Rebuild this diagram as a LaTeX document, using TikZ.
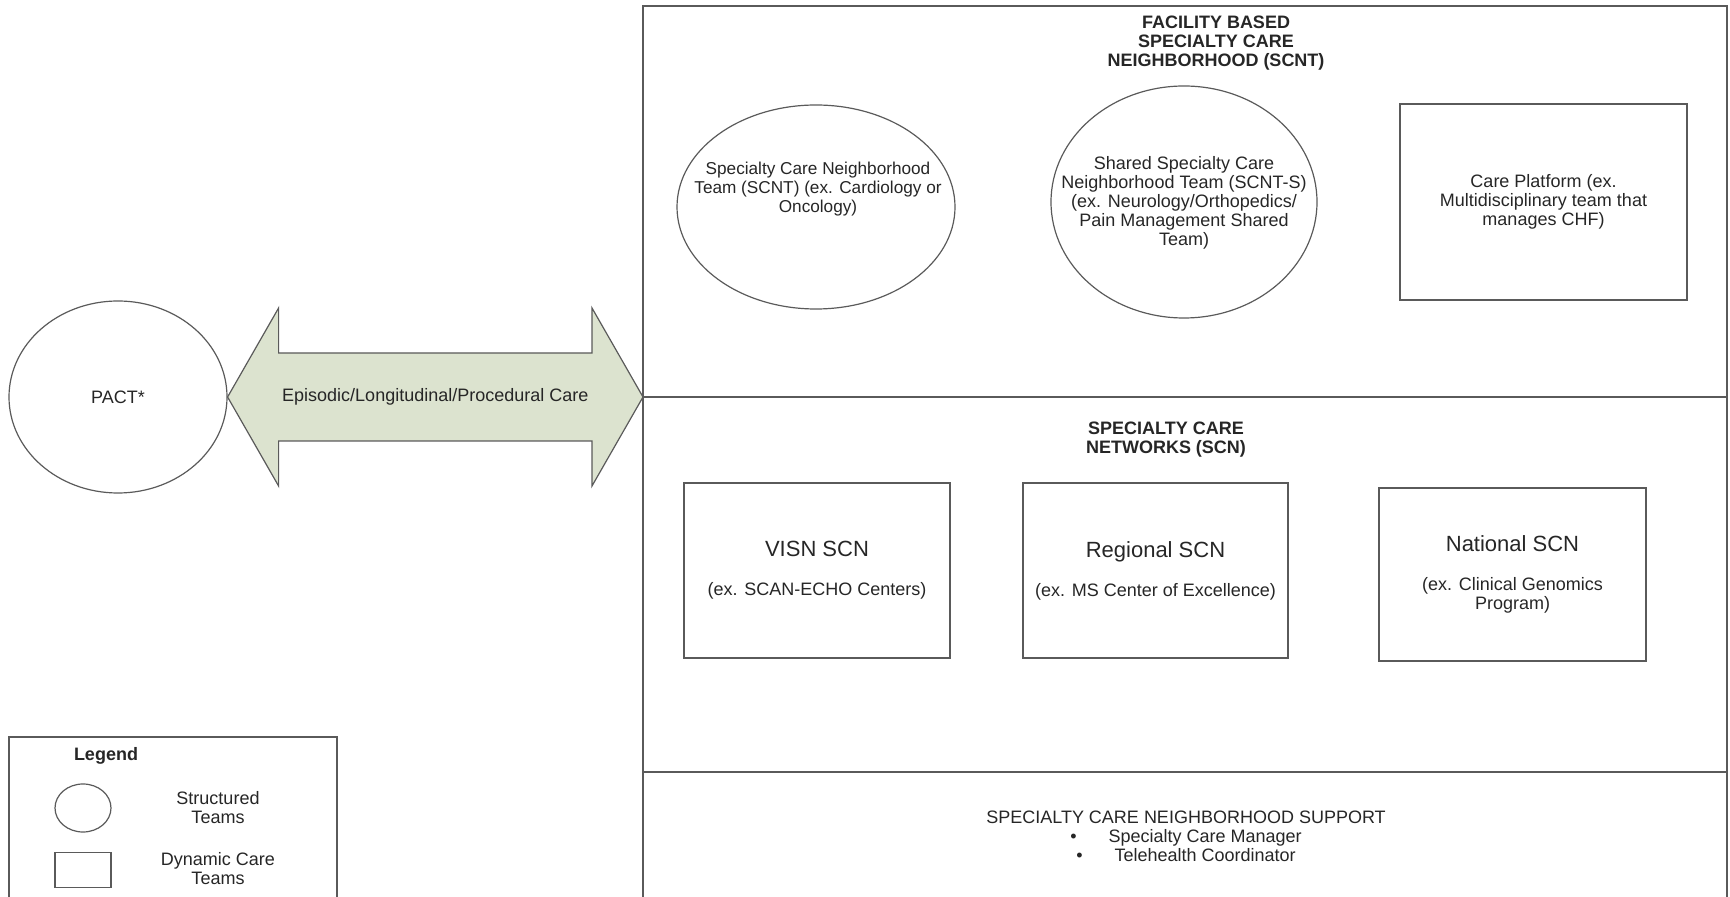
\documentclass[tikz,border=0pt]{standalone}
\usepackage{fontspec}
\setmainfont{Liberation Sans}
\usetikzlibrary{shapes.geometric,calc}

\definecolor{arrowgreen}{HTML}{DCE3CF}
\definecolor{linegray}{HTML}{5A5A5A}

\newcommand{\scnname}[1]{{\fontsize{11}{12}\selectfont #1}}

\tikzset{
	txt/.style={font=\fontsize{9}{9.5}\selectfont, align=center, inner sep=0pt, text=black!85},
	title/.style={txt, font=\fontsize{9}{9.5}\selectfont\bfseries},
	team/.style={draw=linegray, line width=0.6pt, ellipse, inner sep=0pt},
	dyn/.style={draw=linegray, line width=0.6pt, rectangle, inner sep=0pt, align=center, text=black!85, font=\fontsize{9}{9.5}\selectfont},
	frame/.style={draw=linegray, line width=0.7pt},
}

\begin{document}
\begin{tikzpicture}[x=0.5pt, y=-0.5pt]
		\useasboundingbox (0,0) rectangle (1730,897);

		\coordinate (F_bl) at (643,900);
		\coordinate (F_tl) at (643,6);
		\coordinate (F_tr) at (1727,6);
		\coordinate (F_br) at (1727,900);
		\coordinate (F_m1) at (643,397);
		\coordinate (F_m2) at (643,772);

		% riquadro
		\draw[frame] (F_bl) -- (F_tl) -- (F_tr) -- (F_br);
		\draw[frame] (F_m1) -- (F_m1 -| F_tr);
		\draw[frame] (F_m2) -- (F_m2 -| F_tr);

		% PACT e freccia
		\node[team, minimum width=109pt, minimum height=96pt] (pact) at (118,397) {};
		\node[txt] (pact_t) at (pact) {PACT*};

		\coordinate (tipL) at (pact.east);
		\coordinate (tipR) at (F_m1);
		\filldraw[fill=arrowgreen, draw=linegray, line width=0.6pt]
			(tipL) -- ++(51,-89) -- ++(0,45) -- ($(tipR)+(-51,-44)$) -- ++(0,-45)
			-- (tipR) -- ++(-51,89) -- ++(0,-45) -- ($(tipL)+(51,44)$) -- ++(0,45) -- cycle;
		\node[txt] (care) at ($(tipL)!0.5!(tipR)$) {Episodic/Longitudinal/Procedural Care};

		% neighborhood
		\node[title] (fac) at (1216,43) {FACILITY BASED\\SPECIALTY CARE\\NEIGHBORHOOD (SCNT)};
		\node[team, minimum width=139pt, minimum height=102pt] (scnt) at (816,207) {};
		\node[txt, font=\fontsize{8.6}{9.5}\selectfont] (scnt_t) at (818,189) {Specialty Care Neighborhood\\Team (SCNT) (ex. Cardiology or\\Oncology)};
		\node[team, minimum width=133pt, minimum height=116pt] (scnts) at (1184,202) {};
		\node[txt] (scnts_t) at (1184,203) {Shared Specialty Care\\Neighborhood Team (SCNT-S)\\(ex. Neurology/Orthopedics/\\Pain Management Shared\\Team)};
		\node[dyn, minimum width=143.5pt, minimum height=98pt] (platform) at (1543.5,202) {Care Platform (ex.\\Multidisciplinary team that\\manages CHF)};

		% networks
		\node[title] (net) at (1166,440) {SPECIALTY CARE\\NETWORKS (SCN)};
		\node[dyn, minimum width=133pt, minimum height=87.5pt] (visn) at (817,570.5) {\scnname{VISN SCN}\\[10pt](ex. SCAN-ECHO Centers)};
		\node[dyn, minimum width=132.5pt, minimum height=87.5pt] (regional) at (1155.5,570.5) {\scnname{Regional SCN}\\[10pt](ex. MS Center of Excellence)};
		\node[dyn, minimum width=133.5pt, minimum height=86.5pt] (national) at (1512.5,574.5) {\scnname{National SCN}\\[10pt](ex. Clinical Genomics\\Program)};

		% support
		\node[txt] (support) at (1186,836) {SPECIALTY CARE NEIGHBORHOOD SUPPORT\\
			\textbullet\hspace{16pt}Specialty Care Manager\\
			\textbullet\hspace{16pt}Telehealth Coordinator};

		% legenda
		\draw[frame] (9,900) -- (9,737) -- (337,737) -- (337,900);
		\node[title] (leg) at (106,756) {Legend};
		\node[team, minimum width=28pt, minimum height=24pt] (leg_st) at (83,808) {};
		\node[txt] (leg_st_t) at (218,808) {Structured\\Teams};
		\node[dyn, minimum width=28pt, minimum height=17.5pt] (leg_dy) at (83,870) {};
		\node[txt] (leg_dy_t) at (218,869) {Dynamic Care\\Teams};
	\end{tikzpicture}
\end{document}
